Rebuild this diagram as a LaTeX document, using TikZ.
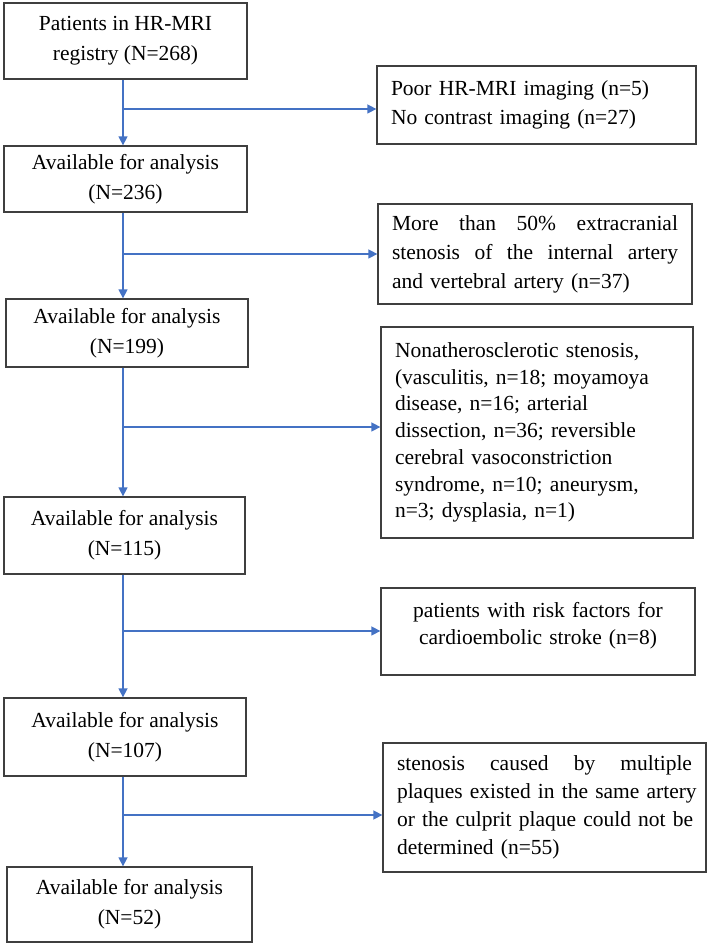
\documentclass[tikz,border=0pt]{standalone}
\usepackage{fontspec}
\setmainfont{Liberation Serif}
\usetikzlibrary{arrows.meta}
\definecolor{linkblue}{HTML}{4472C4}
\definecolor{boxgray}{HTML}{3F3F3F}
\newcommand{\jline}[2]{\leavevmode\hbox to #1{#2}}
\begin{document}
\begin{tikzpicture}[x=1pt,y=1pt,
  box/.style={draw=boxgray, line width=1.3pt, rectangle, inner ysep=0pt, inner xsep=14pt, text=black},
  leftbox/.style={box, align=center, font=\fontsize{21.5}{30}\selectfont},
  rightbox/.style={box, align=left, font=\fontsize{21.5}{29}\selectfont},
  flow/.style={draw=linkblue, line width=1.5pt, -{Triangle[length=9pt,width=9pt]}}]
\useasboundingbox (0,0) rectangle (708,946);
% left column
\node[leftbox, minimum width=243pt, minimum height=76pt] (b1) at (125.5,905) {Patients in HR-MRI\\registry (N=268)};
\node[leftbox, minimum width=243pt, minimum height=66pt] (b2) at (125.5,767) {Available for analysis\\(N=236)};
\node[leftbox, minimum width=242pt, minimum height=68pt] (b3) at (127,613) {Available for analysis\\(N=199)};
\node[leftbox, minimum width=241pt, minimum height=77pt] (b4) at (124.5,410.5) {Available for analysis\\(N=115)};
\node[leftbox, minimum width=242pt, minimum height=78pt] (b5) at (125,209) {Available for analysis\\(N=107)};
\node[leftbox, minimum width=245pt, minimum height=75pt] (b6) at (129.5,41.5) {Available for analysis\\(N=52)};
% right column
\node[rightbox, text width=291pt, minimum height=78pt] (r1) at (536.5,841) {Poor HR-MRI imaging (n=5)\\No contrast imaging (n=27)};
\node[rightbox, text width=286pt, minimum height=100pt] (r2) at (535,692) {\jline{286pt}{More \hfill than \hfill 50\% \hfill extracranial}\\\jline{286pt}{stenosis \hfill of \hfill the \hfill internal \hfill artery}\\and vertebral artery (n=37)};
\node[rightbox, text width=284pt, minimum height=211pt, font=\fontsize{21.5}{26.7}\selectfont] (r3) at (537,513.5) {Nonatherosclerotic stenosis,\\(vasculitis, n=18; moyamoya\\disease, n=16; arterial\\dissection, n=36; reversible\\cerebral vasoconstriction\\syndrome, n=10; aneurysm,\\n=3; dysplasia, n=1)};
\node[box, text width=286pt, minimum height=87pt, align=center, font=\fontsize{21.5}{27}\selectfont] (r4) at (538,314.5) {\raisebox{6pt}[\height][\depth]{\begin{tabular}{@{}c@{}}patients with risk factors for\\cardioembolic stroke (n=8)\end{tabular}}};
\node[rightbox, text width=295pt, minimum height=129pt, font=\fontsize{21.5}{28}\selectfont] (r5) at (544.5,138.5) {\jline{295pt}{stenosis \hfill caused \hfill by \hfill multiple}\\\jline{295pt}{plaques \hfill existed \hfill in \hfill the \hfill same \hfill artery}\\\jline{295pt}{or \hfill the \hfill culprit \hfill plaque \hfill could \hfill not \hfill be}\\determined (n=55)};
% junctions on the spine
\coordinate (j1) at (123,837);
\coordinate (j2) at (123,692);
\coordinate (j3) at (123,519);
\coordinate (j4) at (123,315);
\coordinate (j5) at (123,131);
% vertical flow
\draw[flow] (b1.south -| j1) -- (b2.north -| j1);
\draw[flow] (b2.south -| j2) -- (b3.north -| j2);
\draw[flow] (b3.south -| j3) -- (b4.north -| j3);
\draw[flow] (b4.south -| j4) -- (b5.north -| j4);
\draw[flow] (b5.south -| j5) -- (b6.north -| j5);
% exclusions
\draw[flow] (j1) -- (j1 -| r1.west);
\draw[flow] (j2) -- (j2 -| r2.west);
\draw[flow] (j3) -- (j3 -| r3.west);
\draw[flow] (j4) -- (j4 -| r4.west);
\draw[flow] (j5) -- (j5 -| r5.west);
\end{tikzpicture}
\end{document}
